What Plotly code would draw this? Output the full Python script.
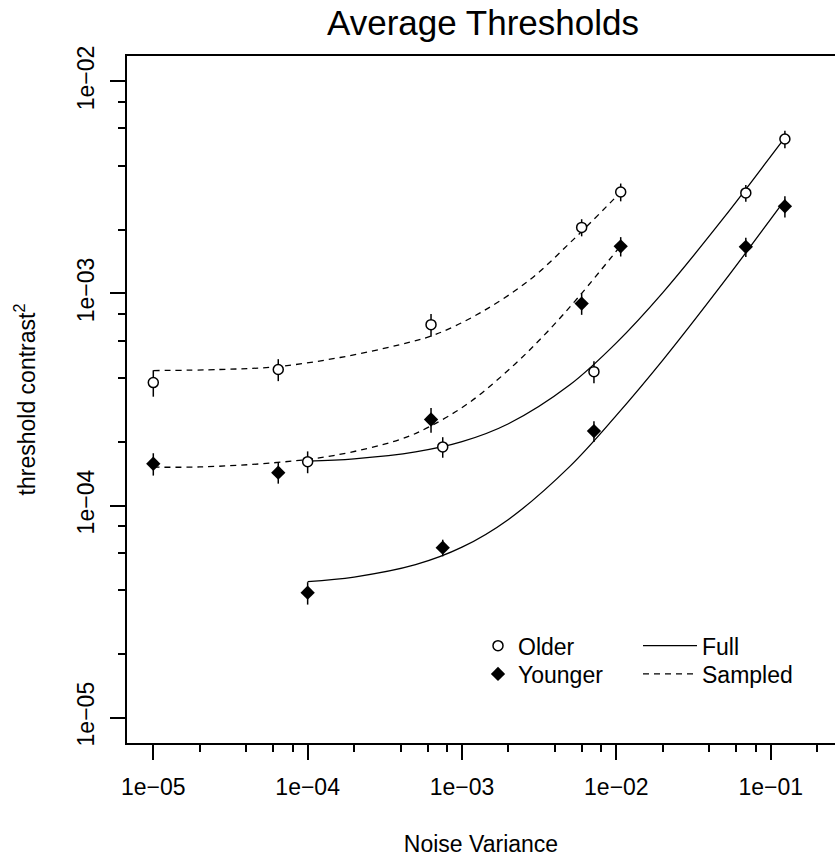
import plotly.graph_objects as go

# ---------------- data ----------------
noise_sampled = [1e-5, 6.45e-5, 6.3e-4, 5.96e-3, 1.067e-2]
noise_full = [1e-4, 7.5e-4, 7.16e-3, 6.9e-2, 1.236e-1]

older_sampled = [3.8e-4, 4.38e-4, 7.13e-4, 2.05e-3, 3.01e-3]
older_sampled_se = [5.4e-5, 5.2e-5, 8.8e-5, 1.9e-4, 2.9e-4]
older_full = [1.61e-4, 1.89e-4, 4.28e-4, 2.98e-3, 5.35e-3]
older_full_se = [1.9e-5, 2.1e-5, 5.1e-5, 2.7e-4, 5.1e-4]

younger_sampled = [1.574e-4, 1.428e-4, 2.545e-4, 8.96e-4, 1.669e-3]
younger_sampled_se = [1.9e-5, 1.6e-5, 3.4e-5, 1.03e-4, 1.75e-4]
younger_full = [3.88e-5, 6.33e-5, 2.245e-4, 1.66e-3, 2.577e-3]
younger_full_se = [4.7e-6, 5.7e-6, 2.5e-5, 1.74e-4, 2.96e-4]

# fitted curves
fit_full_x = [1e-4, 2e-4, 5e-4, 1e-3, 2e-3, 5e-3, 1e-2, 2e-2, 5e-2, 1e-1, 1.24e-1]
fit_older_full = [1.62e-4, 1.66e-4, 1.79e-4, 2.00e-4, 2.43e-4, 3.71e-4, 5.85e-4,
                  1.01e-3, 2.29e-3, 4.43e-3, 5.45e-3]
fit_younger_full = [4.38e-5, 4.60e-5, 5.26e-5, 6.36e-5, 8.6e-5, 1.53e-4, 2.66e-4,
                    4.85e-4, 1.14e-3, 2.24e-3, 2.77e-3]

fit_older_sampled_x = [1e-5, 2.7e-5, 6.4e-5, 1.62e-4, 3.97e-4, 6.7e-4, 1.31e-3,
                       2.76e-3, 5.26e-3, 9.56e-3, 1.067e-2]
fit_older_sampled = [4.33e-4, 4.38e-4, 4.52e-4, 4.99e-4, 5.74e-4, 6.40e-4, 8.10e-4,
                     1.163e-3, 1.795e-3, 2.77e-3, 3.01e-3]

fit_younger_sampled_x = [1e-5, 2.0e-5, 6.0e-5, 1.47e-4, 3.97e-4, 6.2e-4, 1.13e-3,
                         2.2e-3, 3.54e-3, 5.81e-3, 1.067e-2]
fit_younger_sampled = [1.517e-4, 1.52e-4, 1.59e-4, 1.72e-4, 2.05e-4, 2.36e-4, 3.08e-4,
                       4.64e-4, 6.55e-4, 9.8e-4, 1.681e-3]

x_tickvals = [1e-5, 1e-4, 1e-3, 1e-2, 1e-1]
x_ticktext = ["1e\u221205", "1e\u221204", "1e\u221203", "1e\u221202", "1e\u221201"]
y_tickvals = [1e-5, 1e-4, 1e-3, 1e-2]
y_ticktext = ["1e\u221205", "1e\u221204", "1e\u221203", "1e\u221202"]
minor_mult = [2, 4, 6, 8]
x_minor = [m * d for d in [1e-5, 1e-4, 1e-3, 1e-2, 1e-1] for m in minor_mult]
y_minor = [m * d for d in [1e-5, 1e-4, 1e-3] for m in minor_mult]

FONT = "Liberation Sans, Arial, Helvetica, sans-serif"
FS = 23
W, H = 835, 860
L, R, T, B = 127, 0, 56, 117
PW, PH = W - L - R, H - T - B


def px_to_paper_x(px):
    return (px - L) / PW


def px_to_paper_y(py):
    return (H - B - py) / PH


fig = go.Figure()

line_style = dict(color="black", width=1.3, shape="spline", smoothing=1.0)
dash_style = dict(color="black", width=1.3, dash="6px,5px", shape="spline", smoothing=1.0)

fig.add_trace(go.Scatter(x=fit_full_x, y=fit_older_full, mode="lines", line=line_style,
                         name="Full", legend="legend3", legendgroup="full", showlegend=True,
                         hoverinfo="skip"))
fig.add_trace(go.Scatter(x=fit_full_x, y=fit_younger_full, mode="lines", line=line_style,
                         name="Full", legend="legend3", legendgroup="full", showlegend=False,
                         hoverinfo="skip"))
fig.add_trace(go.Scatter(x=fit_older_sampled_x, y=fit_older_sampled, mode="lines", line=dash_style,
                         name="Sampled", legend="legend4", legendgroup="sampled", showlegend=True,
                         hoverinfo="skip"))
fig.add_trace(go.Scatter(x=fit_younger_sampled_x, y=fit_younger_sampled, mode="lines", line=dash_style,
                         name="Sampled", legend="legend4", legendgroup="sampled", showlegend=False,
                         hoverinfo="skip"))

err = dict(type="data", symmetric=True, thickness=1.5, width=0, color="black")

fig.add_trace(go.Scatter(
    x=noise_sampled + noise_full, y=older_sampled + older_full, mode="markers",
    name="Older", legend="legend", showlegend=True,
    marker=dict(symbol="circle", size=10, color="white", line=dict(color="black", width=1.5)),
    error_y=dict(err, array=older_sampled_se + older_full_se)))
fig.add_trace(go.Scatter(
    x=noise_sampled + noise_full, y=younger_sampled + younger_full, mode="markers",
    name="Younger", legend="legend2", showlegend=True,
    marker=dict(symbol="diamond", size=11, color="black", line=dict(color="black", width=0)),
    error_y=dict(err, array=younger_sampled_se + younger_full_se)))


def legend_box(left_px, center_px, itemwidth):
    return dict(x=px_to_paper_x(left_px), y=px_to_paper_y(center_px - 22.5),
                xanchor="left", yanchor="top", bgcolor="rgba(0,0,0,0)",
                font=dict(size=FS, family=FONT), itemwidth=itemwidth, tracegroupgap=0)


fig.update_layout(
    width=W, height=H,
    showlegend=True,
    margin=dict(l=L, r=R, t=T, b=B, pad=0, autoexpand=False),
    paper_bgcolor="white", plot_bgcolor="white",
    font=dict(family=FONT, size=FS, color="black"),
    title=dict(text="Average Thresholds", font=dict(size=35, family=FONT, color="black"),
               x=483 / W, xref="container", xanchor="center",
               y=1 - 23 / H, yref="container", yanchor="middle"),
    xaxis=dict(
        type="log", range=[-5.1704, -0.5834], showgrid=False, zeroline=False,
        showline=True, mirror=True, linecolor="black", linewidth=1.5,
        tickmode="array", tickvals=x_tickvals, ticktext=x_ticktext,
        ticks="outside", ticklen=15, tickwidth=1.5, tickcolor="black",
        ticklabelstandoff=8,
        minor=dict(tickmode="array", tickvals=x_minor, ticks="outside", ticklen=7,
                   tickwidth=1.5, tickcolor="black", showgrid=False),
        tickfont=dict(size=FS),
        title=dict(text="Noise Variance", font=dict(size=FS), standoff=37),
        automargin=False,
    ),
    yaxis=dict(
        type="log", range=[-5.12, -1.88], showgrid=False, zeroline=False,
        showline=True, mirror=False, linecolor="black", linewidth=1.5,
        tickmode="array", tickvals=y_tickvals, ticktext=y_ticktext, tickangle=-90,
        ticks="outside", ticklen=15, tickwidth=1.5, tickcolor="black",
        ticklabelstandoff=7,
        minor=dict(tickmode="array", tickvals=y_minor, ticks="outside", ticklen=7,
                   tickwidth=1.5, tickcolor="black", showgrid=False),
        tickfont=dict(size=FS),
        title=dict(text="threshold contrast<sup>2</sup>", font=dict(size=FS), standoff=31),
        automargin=False,
    ),
    legend=legend_box(478, 646.7, 30),
    legend2=legend_box(478, 675, 30),
    legend3=legend_box(638, 646.7, 54),
    legend4=legend_box(638, 675, 54),
)

fig.write_html("out.html")
